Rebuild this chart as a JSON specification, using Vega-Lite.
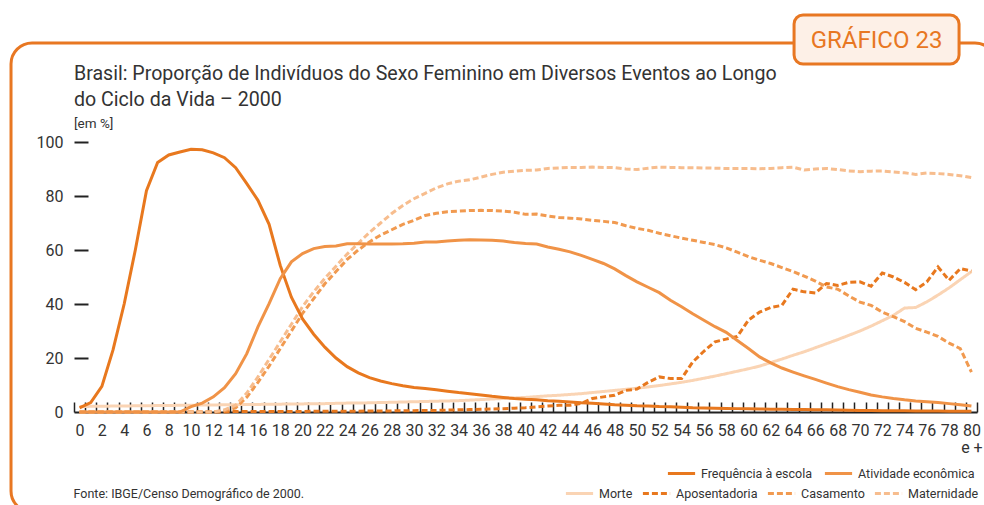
{
  "$schema": "https://vega.github.io/schema/vega-lite/v6.json",
  "width": 903,
  "height": 270,
  "autosize": {"type": "none"},
  "padding": {"left": 74, "top": 142, "right": 7, "bottom": 93},
  "background": "white",
  "title": {
    "text": ["Brasil: Proporção de Indivíduos do Sexo Feminino em Diversos Eventos ao Longo", "do Ciclo da Vida – 2000"],
    "subtitle": "[em %]",
    "anchor": "start",
    "frame": "group",
    "fontSize": 19.6,
    "fontWeight": "normal",
    "color": "#333333",
    "lineHeight": 26,
    "subtitleFontSize": 13.5,
    "subtitleColor": "#333333",
    "subtitlePadding": 6,
    "offset": -118
  },
  "datasets": {
    "dados": [
      {"serie":"Frequência à escola","idade":0,"valor":1.5},{"serie":"Frequência à escola","idade":1,"valor":3.5},{"serie":"Frequência à escola","idade":2,"valor":9.5},{"serie":"Frequência à escola","idade":3,"valor":23},{"serie":"Frequência à escola","idade":4,"valor":40},{"serie":"Frequência à escola","idade":5,"valor":60},{"serie":"Frequência à escola","idade":6,"valor":82},{"serie":"Frequência à escola","idade":7,"valor":92.4},{"serie":"Frequência à escola","idade":8,"valor":95.2},{"serie":"Frequência à escola","idade":9,"valor":96.3},
      {"serie":"Frequência à escola","idade":10,"valor":97.3},{"serie":"Frequência à escola","idade":11,"valor":97.1},{"serie":"Frequência à escola","idade":12,"valor":96},{"serie":"Frequência à escola","idade":13,"valor":94.2},{"serie":"Frequência à escola","idade":14,"valor":90.5},{"serie":"Frequência à escola","idade":15,"valor":84.6},{"serie":"Frequência à escola","idade":16,"valor":78.4},{"serie":"Frequência à escola","idade":17,"valor":69.5},{"serie":"Frequência à escola","idade":18,"valor":54.3},{"serie":"Frequência à escola","idade":19,"valor":42.5},
      {"serie":"Frequência à escola","idade":20,"valor":34.5},{"serie":"Frequência à escola","idade":21,"valor":28.8},{"serie":"Frequência à escola","idade":22,"valor":24},{"serie":"Frequência à escola","idade":23,"valor":20},{"serie":"Frequência à escola","idade":24,"valor":16.8},{"serie":"Frequência à escola","idade":25,"valor":14.5},{"serie":"Frequência à escola","idade":26,"valor":12.7},{"serie":"Frequência à escola","idade":27,"valor":11.5},{"serie":"Frequência à escola","idade":28,"valor":10.5},{"serie":"Frequência à escola","idade":29,"valor":9.7},
      {"serie":"Frequência à escola","idade":30,"valor":9.1},{"serie":"Frequência à escola","idade":31,"valor":8.7},{"serie":"Frequência à escola","idade":32,"valor":8.2},{"serie":"Frequência à escola","idade":33,"valor":7.7},{"serie":"Frequência à escola","idade":34,"valor":7.2},{"serie":"Frequência à escola","idade":35,"valor":6.8},{"serie":"Frequência à escola","idade":36,"valor":6.3},{"serie":"Frequência à escola","idade":37,"valor":5.8},{"serie":"Frequência à escola","idade":38,"valor":5.4},{"serie":"Frequência à escola","idade":39,"valor":5.0},
      {"serie":"Frequência à escola","idade":40,"valor":4.7},{"serie":"Frequência à escola","idade":41,"valor":4.5},{"serie":"Frequência à escola","idade":42,"valor":4.2},{"serie":"Frequência à escola","idade":43,"valor":4.0},{"serie":"Frequência à escola","idade":44,"valor":3.7},{"serie":"Frequência à escola","idade":45,"valor":3.4},{"serie":"Frequência à escola","idade":46,"valor":3.2},{"serie":"Frequência à escola","idade":47,"valor":3.0},{"serie":"Frequência à escola","idade":48,"valor":2.7},{"serie":"Frequência à escola","idade":49,"valor":2.5},
      {"serie":"Frequência à escola","idade":50,"valor":2.3},{"serie":"Frequência à escola","idade":51,"valor":2.2},{"serie":"Frequência à escola","idade":52,"valor":2.0},{"serie":"Frequência à escola","idade":53,"valor":1.9},{"serie":"Frequência à escola","idade":54,"valor":1.8},{"serie":"Frequência à escola","idade":55,"valor":1.6},{"serie":"Frequência à escola","idade":56,"valor":1.5},{"serie":"Frequência à escola","idade":57,"valor":1.4},{"serie":"Frequência à escola","idade":58,"valor":1.3},{"serie":"Frequência à escola","idade":59,"valor":1.25},
      {"serie":"Frequência à escola","idade":60,"valor":1.2},{"serie":"Frequência à escola","idade":61,"valor":1.1},{"serie":"Frequência à escola","idade":62,"valor":1.05},{"serie":"Frequência à escola","idade":63,"valor":1.0},{"serie":"Frequência à escola","idade":64,"valor":0.95},{"serie":"Frequência à escola","idade":65,"valor":0.9},{"serie":"Frequência à escola","idade":66,"valor":0.85},{"serie":"Frequência à escola","idade":67,"valor":0.8},{"serie":"Frequência à escola","idade":68,"valor":0.7},{"serie":"Frequência à escola","idade":69,"valor":0.65},
      {"serie":"Frequência à escola","idade":70,"valor":0.6},{"serie":"Frequência à escola","idade":71,"valor":0.55},{"serie":"Frequência à escola","idade":72,"valor":0.5},{"serie":"Frequência à escola","idade":73,"valor":0.5},{"serie":"Frequência à escola","idade":74,"valor":0.45},{"serie":"Frequência à escola","idade":75,"valor":0.4},{"serie":"Frequência à escola","idade":76,"valor":0.4},{"serie":"Frequência à escola","idade":77,"valor":0.35},{"serie":"Frequência à escola","idade":78,"valor":0.3},{"serie":"Frequência à escola","idade":79,"valor":0.3},{"serie":"Frequência à escola","idade":80,"valor":0.3},

      {"serie":"Atividade econômica","idade":0,"valor":0},{"serie":"Atividade econômica","idade":1,"valor":0},{"serie":"Atividade econômica","idade":2,"valor":0},{"serie":"Atividade econômica","idade":3,"valor":0},{"serie":"Atividade econômica","idade":4,"valor":0},{"serie":"Atividade econômica","idade":5,"valor":0},{"serie":"Atividade econômica","idade":6,"valor":0},{"serie":"Atividade econômica","idade":7,"valor":0},{"serie":"Atividade econômica","idade":8,"valor":0},{"serie":"Atividade econômica","idade":9,"valor":0},
      {"serie":"Atividade econômica","idade":10,"valor":2},{"serie":"Atividade econômica","idade":11,"valor":3.3},{"serie":"Atividade econômica","idade":12,"valor":5.6},{"serie":"Atividade econômica","idade":13,"valor":9},{"serie":"Atividade econômica","idade":14,"valor":14.2},{"serie":"Atividade econômica","idade":15,"valor":21.6},{"serie":"Atividade econômica","idade":16,"valor":31.5},{"serie":"Atividade econômica","idade":17,"valor":40.1},{"serie":"Atividade econômica","idade":18,"valor":49.4},{"serie":"Atividade econômica","idade":19,"valor":55.6},
      {"serie":"Atividade econômica","idade":20,"valor":58.7},{"serie":"Atividade econômica","idade":21,"valor":60.5},{"serie":"Atividade econômica","idade":22,"valor":61.3},{"serie":"Atividade econômica","idade":23,"valor":61.5},{"serie":"Atividade econômica","idade":24,"valor":62.3},{"serie":"Atividade econômica","idade":25,"valor":62.3},{"serie":"Atividade econômica","idade":26,"valor":62.2},{"serie":"Atividade econômica","idade":27,"valor":62.2},{"serie":"Atividade econômica","idade":28,"valor":62.2},{"serie":"Atividade econômica","idade":29,"valor":62.3},
      {"serie":"Atividade econômica","idade":30,"valor":62.5},{"serie":"Atividade econômica","idade":31,"valor":63},{"serie":"Atividade econômica","idade":32,"valor":63},{"serie":"Atividade econômica","idade":33,"valor":63.3},{"serie":"Atividade econômica","idade":34,"valor":63.6},{"serie":"Atividade econômica","idade":35,"valor":63.8},{"serie":"Atividade econômica","idade":36,"valor":63.7},{"serie":"Atividade econômica","idade":37,"valor":63.6},{"serie":"Atividade econômica","idade":38,"valor":63.3},{"serie":"Atividade econômica","idade":39,"valor":62.8},
      {"serie":"Atividade econômica","idade":40,"valor":62.4},{"serie":"Atividade econômica","idade":41,"valor":62.2},{"serie":"Atividade econômica","idade":42,"valor":61.1},{"serie":"Atividade econômica","idade":43,"valor":60.3},{"serie":"Atividade econômica","idade":44,"valor":59.3},{"serie":"Atividade econômica","idade":45,"valor":58},{"serie":"Atividade econômica","idade":46,"valor":56.5},{"serie":"Atividade econômica","idade":47,"valor":55},{"serie":"Atividade econômica","idade":48,"valor":53},{"serie":"Atividade econômica","idade":49,"valor":50.5},
      {"serie":"Atividade econômica","idade":50,"valor":48.2},{"serie":"Atividade econômica","idade":51,"valor":46.2},{"serie":"Atividade econômica","idade":52,"valor":44.2},{"serie":"Atividade econômica","idade":53,"valor":41.4},{"serie":"Atividade econômica","idade":54,"valor":39},{"serie":"Atividade econômica","idade":55,"valor":36.4},{"serie":"Atividade econômica","idade":56,"valor":34},{"serie":"Atividade econômica","idade":57,"valor":31.6},{"serie":"Atividade econômica","idade":58,"valor":29.5},{"serie":"Atividade econômica","idade":59,"valor":26.5},
      {"serie":"Atividade econômica","idade":60,"valor":23.5},{"serie":"Atividade econômica","idade":61,"valor":20.4},{"serie":"Atividade econômica","idade":62,"valor":18.2},{"serie":"Atividade econômica","idade":63,"valor":16.3},{"serie":"Atividade econômica","idade":64,"valor":14.8},{"serie":"Atividade econômica","idade":65,"valor":13.4},{"serie":"Atividade econômica","idade":66,"valor":12.1},{"serie":"Atividade econômica","idade":67,"valor":10.7},{"serie":"Atividade econômica","idade":68,"valor":9.4},{"serie":"Atividade econômica","idade":69,"valor":8.3},
      {"serie":"Atividade econômica","idade":70,"valor":7.3},{"serie":"Atividade econômica","idade":71,"valor":6.3},{"serie":"Atividade econômica","idade":72,"valor":5.6},{"serie":"Atividade econômica","idade":73,"valor":5},{"serie":"Atividade econômica","idade":74,"valor":4.5},{"serie":"Atividade econômica","idade":75,"valor":4.1},{"serie":"Atividade econômica","idade":76,"valor":3.8},{"serie":"Atividade econômica","idade":77,"valor":3.5},{"serie":"Atividade econômica","idade":78,"valor":3.1},{"serie":"Atividade econômica","idade":79,"valor":2.7},{"serie":"Atividade econômica","idade":80,"valor":2.2},

      {"serie":"Morte","idade":0,"valor":2.0},{"serie":"Morte","idade":1,"valor":2.1},{"serie":"Morte","idade":2,"valor":2.1},{"serie":"Morte","idade":3,"valor":2.2},{"serie":"Morte","idade":4,"valor":2.2},{"serie":"Morte","idade":5,"valor":2.3},{"serie":"Morte","idade":6,"valor":2.3},{"serie":"Morte","idade":7,"valor":2.4},{"serie":"Morte","idade":8,"valor":2.4},{"serie":"Morte","idade":9,"valor":2.5},
      {"serie":"Morte","idade":10,"valor":2.5},{"serie":"Morte","idade":11,"valor":2.6},{"serie":"Morte","idade":12,"valor":2.6},{"serie":"Morte","idade":13,"valor":2.7},{"serie":"Morte","idade":14,"valor":2.7},{"serie":"Morte","idade":15,"valor":2.8},{"serie":"Morte","idade":16,"valor":2.8},{"serie":"Morte","idade":17,"valor":2.9},{"serie":"Morte","idade":18,"valor":2.9},{"serie":"Morte","idade":19,"valor":3.0},
      {"serie":"Morte","idade":20,"valor":3.0},{"serie":"Morte","idade":21,"valor":3.1},{"serie":"Morte","idade":22,"valor":3.1},{"serie":"Morte","idade":23,"valor":3.2},{"serie":"Morte","idade":24,"valor":3.3},{"serie":"Morte","idade":25,"valor":3.3},{"serie":"Morte","idade":26,"valor":3.4},{"serie":"Morte","idade":27,"valor":3.5},{"serie":"Morte","idade":28,"valor":3.6},{"serie":"Morte","idade":29,"valor":3.7},
      {"serie":"Morte","idade":30,"valor":3.8},{"serie":"Morte","idade":31,"valor":3.9},{"serie":"Morte","idade":32,"valor":4.0},{"serie":"Morte","idade":33,"valor":4.1},{"serie":"Morte","idade":34,"valor":4.2},{"serie":"Morte","idade":35,"valor":4.4},{"serie":"Morte","idade":36,"valor":4.6},{"serie":"Morte","idade":37,"valor":4.8},{"serie":"Morte","idade":38,"valor":5.0},{"serie":"Morte","idade":39,"valor":5.2},
      {"serie":"Morte","idade":40,"valor":5.4},{"serie":"Morte","idade":41,"valor":5.7},{"serie":"Morte","idade":42,"valor":6.0},{"serie":"Morte","idade":43,"valor":6.2},{"serie":"Morte","idade":44,"valor":6.5},{"serie":"Morte","idade":45,"valor":6.8},{"serie":"Morte","idade":46,"valor":7.2},{"serie":"Morte","idade":47,"valor":7.6},{"serie":"Morte","idade":48,"valor":8.0},{"serie":"Morte","idade":49,"valor":8.4},
      {"serie":"Morte","idade":50,"valor":8.8},{"serie":"Morte","idade":51,"valor":9.3},{"serie":"Morte","idade":52,"valor":9.8},{"serie":"Morte","idade":53,"valor":10.4},{"serie":"Morte","idade":54,"valor":11.0},{"serie":"Morte","idade":55,"valor":11.7},{"serie":"Morte","idade":56,"valor":12.5},{"serie":"Morte","idade":57,"valor":13.3},{"serie":"Morte","idade":58,"valor":14.2},{"serie":"Morte","idade":59,"valor":15.1},
      {"serie":"Morte","idade":60,"valor":16.0},{"serie":"Morte","idade":61,"valor":17.0},{"serie":"Morte","idade":62,"valor":18.3},{"serie":"Morte","idade":63,"valor":19.6},{"serie":"Morte","idade":64,"valor":21.0},{"serie":"Morte","idade":65,"valor":22.3},{"serie":"Morte","idade":66,"valor":23.8},{"serie":"Morte","idade":67,"valor":25.3},{"serie":"Morte","idade":68,"valor":26.8},{"serie":"Morte","idade":69,"valor":28.4},
      {"serie":"Morte","idade":70,"valor":30.0},{"serie":"Morte","idade":71,"valor":31.8},{"serie":"Morte","idade":72,"valor":33.8},{"serie":"Morte","idade":73,"valor":35.8},{"serie":"Morte","idade":74,"valor":38.5},{"serie":"Morte","idade":75,"valor":38.7},{"serie":"Morte","idade":76,"valor":40.8},{"serie":"Morte","idade":77,"valor":43.3},{"serie":"Morte","idade":78,"valor":46.0},{"serie":"Morte","idade":79,"valor":49.0},{"serie":"Morte","idade":80,"valor":52.0},

      {"serie":"Aposentadoria","idade":0,"valor":0},{"serie":"Aposentadoria","idade":1,"valor":0},{"serie":"Aposentadoria","idade":2,"valor":0},{"serie":"Aposentadoria","idade":3,"valor":0},{"serie":"Aposentadoria","idade":4,"valor":0},{"serie":"Aposentadoria","idade":5,"valor":0},{"serie":"Aposentadoria","idade":6,"valor":0},{"serie":"Aposentadoria","idade":7,"valor":0},{"serie":"Aposentadoria","idade":8,"valor":0},{"serie":"Aposentadoria","idade":9,"valor":0},
      {"serie":"Aposentadoria","idade":10,"valor":0},{"serie":"Aposentadoria","idade":11,"valor":0},{"serie":"Aposentadoria","idade":12,"valor":0},{"serie":"Aposentadoria","idade":13,"valor":0},{"serie":"Aposentadoria","idade":14,"valor":0.2},{"serie":"Aposentadoria","idade":15,"valor":0.2},{"serie":"Aposentadoria","idade":16,"valor":0.2},{"serie":"Aposentadoria","idade":17,"valor":0.2},{"serie":"Aposentadoria","idade":18,"valor":0.2},{"serie":"Aposentadoria","idade":19,"valor":0.2},
      {"serie":"Aposentadoria","idade":20,"valor":0.2},{"serie":"Aposentadoria","idade":21,"valor":0.3},{"serie":"Aposentadoria","idade":22,"valor":0.3},{"serie":"Aposentadoria","idade":23,"valor":0.3},{"serie":"Aposentadoria","idade":24,"valor":0.3},{"serie":"Aposentadoria","idade":25,"valor":0.3},{"serie":"Aposentadoria","idade":26,"valor":0.4},{"serie":"Aposentadoria","idade":27,"valor":0.4},{"serie":"Aposentadoria","idade":28,"valor":0.4},{"serie":"Aposentadoria","idade":29,"valor":0.5},
      {"serie":"Aposentadoria","idade":30,"valor":0.5},{"serie":"Aposentadoria","idade":31,"valor":0.6},{"serie":"Aposentadoria","idade":32,"valor":0.6},{"serie":"Aposentadoria","idade":33,"valor":0.7},{"serie":"Aposentadoria","idade":34,"valor":0.8},{"serie":"Aposentadoria","idade":35,"valor":0.9},{"serie":"Aposentadoria","idade":36,"valor":1.0},{"serie":"Aposentadoria","idade":37,"valor":1.1},{"serie":"Aposentadoria","idade":38,"valor":1.2},{"serie":"Aposentadoria","idade":39,"valor":1.4},
      {"serie":"Aposentadoria","idade":40,"valor":1.6},{"serie":"Aposentadoria","idade":41,"valor":1.9},{"serie":"Aposentadoria","idade":42,"valor":2.2},{"serie":"Aposentadoria","idade":43,"valor":2.5},{"serie":"Aposentadoria","idade":44,"valor":2.5},{"serie":"Aposentadoria","idade":45,"valor":3.2},{"serie":"Aposentadoria","idade":46,"valor":5},{"serie":"Aposentadoria","idade":47,"valor":5.6},{"serie":"Aposentadoria","idade":48,"valor":6.2},{"serie":"Aposentadoria","idade":49,"valor":8},
      {"serie":"Aposentadoria","idade":50,"valor":8.5},{"serie":"Aposentadoria","idade":51,"valor":11},{"serie":"Aposentadoria","idade":52,"valor":13},{"serie":"Aposentadoria","idade":53,"valor":12.4},{"serie":"Aposentadoria","idade":54,"valor":12.4},{"serie":"Aposentadoria","idade":55,"valor":18.5},{"serie":"Aposentadoria","idade":56,"valor":22.5},{"serie":"Aposentadoria","idade":57,"valor":26},{"serie":"Aposentadoria","idade":58,"valor":27},{"serie":"Aposentadoria","idade":59,"valor":28},
      {"serie":"Aposentadoria","idade":60,"valor":34},{"serie":"Aposentadoria","idade":61,"valor":37},{"serie":"Aposentadoria","idade":62,"valor":38.7},{"serie":"Aposentadoria","idade":63,"valor":39.5},{"serie":"Aposentadoria","idade":64,"valor":45.5},{"serie":"Aposentadoria","idade":65,"valor":44.5},{"serie":"Aposentadoria","idade":66,"valor":44.1},{"serie":"Aposentadoria","idade":67,"valor":47.6},{"serie":"Aposentadoria","idade":68,"valor":46.9},{"serie":"Aposentadoria","idade":69,"valor":48},
      {"serie":"Aposentadoria","idade":70,"valor":48.2},{"serie":"Aposentadoria","idade":71,"valor":46.6},{"serie":"Aposentadoria","idade":72,"valor":51.5},{"serie":"Aposentadoria","idade":73,"valor":50},{"serie":"Aposentadoria","idade":74,"valor":48},{"serie":"Aposentadoria","idade":75,"valor":45.3},{"serie":"Aposentadoria","idade":76,"valor":48.2},{"serie":"Aposentadoria","idade":77,"valor":53.7},{"serie":"Aposentadoria","idade":78,"valor":48.8},{"serie":"Aposentadoria","idade":79,"valor":53.1},{"serie":"Aposentadoria","idade":80,"valor":52.2},

      {"serie":"Casamento","idade":0,"valor":0},{"serie":"Casamento","idade":1,"valor":0},{"serie":"Casamento","idade":2,"valor":0},{"serie":"Casamento","idade":3,"valor":0},{"serie":"Casamento","idade":4,"valor":0},{"serie":"Casamento","idade":5,"valor":0},{"serie":"Casamento","idade":6,"valor":0},{"serie":"Casamento","idade":7,"valor":0},{"serie":"Casamento","idade":8,"valor":0},{"serie":"Casamento","idade":9,"valor":0},
      {"serie":"Casamento","idade":10,"valor":0},{"serie":"Casamento","idade":11,"valor":0},{"serie":"Casamento","idade":12,"valor":0},{"serie":"Casamento","idade":13,"valor":0.5},{"serie":"Casamento","idade":14,"valor":1.5},{"serie":"Casamento","idade":15,"valor":5.5},{"serie":"Casamento","idade":16,"valor":11},{"serie":"Casamento","idade":17,"valor":17},{"serie":"Casamento","idade":18,"valor":23.5},{"serie":"Casamento","idade":19,"valor":30},
      {"serie":"Casamento","idade":20,"valor":36.5},{"serie":"Casamento","idade":21,"valor":42},{"serie":"Casamento","idade":22,"valor":47.5},{"serie":"Casamento","idade":23,"valor":52},{"serie":"Casamento","idade":24,"valor":56.5},{"serie":"Casamento","idade":25,"valor":60},{"serie":"Casamento","idade":26,"valor":63},{"serie":"Casamento","idade":27,"valor":65.5},{"serie":"Casamento","idade":28,"valor":67.5},{"serie":"Casamento","idade":29,"valor":69.5},
      {"serie":"Casamento","idade":30,"valor":71},{"serie":"Casamento","idade":31,"valor":72.8},{"serie":"Casamento","idade":32,"valor":73.6},{"serie":"Casamento","idade":33,"valor":74.2},{"serie":"Casamento","idade":34,"valor":74.4},{"serie":"Casamento","idade":35,"valor":74.6},{"serie":"Casamento","idade":36,"valor":74.7},{"serie":"Casamento","idade":37,"valor":74.6},{"serie":"Casamento","idade":38,"valor":74.4},{"serie":"Casamento","idade":39,"valor":74},
      {"serie":"Casamento","idade":40,"valor":73.2},{"serie":"Casamento","idade":41,"valor":73.3},{"serie":"Casamento","idade":42,"valor":72.6},{"serie":"Casamento","idade":43,"valor":72},{"serie":"Casamento","idade":44,"valor":71.8},{"serie":"Casamento","idade":45,"valor":71.5},{"serie":"Casamento","idade":46,"valor":71},{"serie":"Casamento","idade":47,"valor":70.6},{"serie":"Casamento","idade":48,"valor":70.2},{"serie":"Casamento","idade":49,"valor":69},
      {"serie":"Casamento","idade":50,"valor":68},{"serie":"Casamento","idade":51,"valor":67.3},{"serie":"Casamento","idade":52,"valor":66.2},{"serie":"Casamento","idade":53,"valor":65.3},{"serie":"Casamento","idade":54,"valor":64.4},{"serie":"Casamento","idade":55,"valor":63.6},{"serie":"Casamento","idade":56,"valor":62.8},{"serie":"Casamento","idade":57,"valor":62},{"serie":"Casamento","idade":58,"valor":60.8},{"serie":"Casamento","idade":59,"valor":59.2},
      {"serie":"Casamento","idade":60,"valor":57.5},{"serie":"Casamento","idade":61,"valor":56.2},{"serie":"Casamento","idade":62,"valor":55},{"serie":"Casamento","idade":63,"valor":53.5},{"serie":"Casamento","idade":64,"valor":52},{"serie":"Casamento","idade":65,"valor":50.3},{"serie":"Casamento","idade":66,"valor":48.5},{"serie":"Casamento","idade":67,"valor":46.3},{"serie":"Casamento","idade":68,"valor":45.5},{"serie":"Casamento","idade":69,"valor":43},
      {"serie":"Casamento","idade":70,"valor":40.7},{"serie":"Casamento","idade":71,"valor":39.5},{"serie":"Casamento","idade":72,"valor":37},{"serie":"Casamento","idade":73,"valor":35.3},{"serie":"Casamento","idade":74,"valor":33.5},{"serie":"Casamento","idade":75,"valor":31},{"serie":"Casamento","idade":76,"valor":29.6},{"serie":"Casamento","idade":77,"valor":28},{"serie":"Casamento","idade":78,"valor":25.5},{"serie":"Casamento","idade":79,"valor":23.5},{"serie":"Casamento","idade":80,"valor":14.8},

      {"serie":"Maternidade","idade":0,"valor":0},{"serie":"Maternidade","idade":1,"valor":0},{"serie":"Maternidade","idade":2,"valor":0},{"serie":"Maternidade","idade":3,"valor":0},{"serie":"Maternidade","idade":4,"valor":0},{"serie":"Maternidade","idade":5,"valor":0},{"serie":"Maternidade","idade":6,"valor":0},{"serie":"Maternidade","idade":7,"valor":0},{"serie":"Maternidade","idade":8,"valor":0},{"serie":"Maternidade","idade":9,"valor":0},
      {"serie":"Maternidade","idade":10,"valor":0},{"serie":"Maternidade","idade":11,"valor":0},{"serie":"Maternidade","idade":12,"valor":0},{"serie":"Maternidade","idade":13,"valor":0.8},{"serie":"Maternidade","idade":14,"valor":2.5},{"serie":"Maternidade","idade":15,"valor":7},{"serie":"Maternidade","idade":16,"valor":13},{"serie":"Maternidade","idade":17,"valor":19.5},{"serie":"Maternidade","idade":18,"valor":26},{"serie":"Maternidade","idade":19,"valor":32.5},
      {"serie":"Maternidade","idade":20,"valor":39},{"serie":"Maternidade","idade":21,"valor":44.5},{"serie":"Maternidade","idade":22,"valor":49.5},{"serie":"Maternidade","idade":23,"valor":54},{"serie":"Maternidade","idade":24,"valor":58.5},{"serie":"Maternidade","idade":25,"valor":62.5},{"serie":"Maternidade","idade":26,"valor":66.5},{"serie":"Maternidade","idade":27,"valor":70},{"serie":"Maternidade","idade":28,"valor":73.5},{"serie":"Maternidade","idade":29,"valor":76.5},
      {"serie":"Maternidade","idade":30,"valor":79},{"serie":"Maternidade","idade":31,"valor":81},{"serie":"Maternidade","idade":32,"valor":83},{"serie":"Maternidade","idade":33,"valor":84.5},{"serie":"Maternidade","idade":34,"valor":85.5},{"serie":"Maternidade","idade":35,"valor":86},{"serie":"Maternidade","idade":36,"valor":87},{"serie":"Maternidade","idade":37,"valor":88},{"serie":"Maternidade","idade":38,"valor":88.8},{"serie":"Maternidade","idade":39,"valor":89.2},
      {"serie":"Maternidade","idade":40,"valor":89.5},{"serie":"Maternidade","idade":41,"valor":89.6},{"serie":"Maternidade","idade":42,"valor":90.2},{"serie":"Maternidade","idade":43,"valor":90.4},{"serie":"Maternidade","idade":44,"valor":90.6},{"serie":"Maternidade","idade":45,"valor":90.6},{"serie":"Maternidade","idade":46,"valor":90.7},{"serie":"Maternidade","idade":47,"valor":90.6},{"serie":"Maternidade","idade":48,"valor":90.5},{"serie":"Maternidade","idade":49,"valor":90},
      {"serie":"Maternidade","idade":50,"valor":89.8},{"serie":"Maternidade","idade":51,"valor":90.3},{"serie":"Maternidade","idade":52,"valor":90.7},{"serie":"Maternidade","idade":53,"valor":90.6},{"serie":"Maternidade","idade":54,"valor":90.5},{"serie":"Maternidade","idade":55,"valor":90.5},{"serie":"Maternidade","idade":56,"valor":90.4},{"serie":"Maternidade","idade":57,"valor":90.3},{"serie":"Maternidade","idade":58,"valor":90.2},{"serie":"Maternidade","idade":59,"valor":90.2},
      {"serie":"Maternidade","idade":60,"valor":90.2},{"serie":"Maternidade","idade":61,"valor":90.1},{"serie":"Maternidade","idade":62,"valor":90.2},{"serie":"Maternidade","idade":63,"valor":90.5},{"serie":"Maternidade","idade":64,"valor":90.7},{"serie":"Maternidade","idade":65,"valor":89.6},{"serie":"Maternidade","idade":66,"valor":90},{"serie":"Maternidade","idade":67,"valor":90.2},{"serie":"Maternidade","idade":68,"valor":89.8},{"serie":"Maternidade","idade":69,"valor":89.3},
      {"serie":"Maternidade","idade":70,"valor":89},{"serie":"Maternidade","idade":71,"valor":89.2},{"serie":"Maternidade","idade":72,"valor":89.3},{"serie":"Maternidade","idade":73,"valor":88.9},{"serie":"Maternidade","idade":74,"valor":88.6},{"serie":"Maternidade","idade":75,"valor":88},{"serie":"Maternidade","idade":76,"valor":88.5},{"serie":"Maternidade","idade":77,"valor":88.3},{"serie":"Maternidade","idade":78,"valor":88},{"serie":"Maternidade","idade":79,"valor":87.5},{"serie":"Maternidade","idade":80,"valor":86.8}
    ]
  },
  "layer": [
    {
      "data": {"values": [{}]},
      "mark": {"type": "rect", "fill": null, "stroke": "#E87722", "strokeWidth": 3, "cornerRadius": 21},
      "encoding": {
        "x": {"datum": -6.15, "type": "quantitative"},
        "x2": {"datum": 82.2},
        "y": {"datum": 136.67, "type": "quantitative"},
        "y2": {"datum": -37.0}
      }
    },
    {
      "data": {"values": [{}]},
      "mark": {"type": "rect", "fill": "#FDF0E7", "stroke": "#E87722", "strokeWidth": 3, "cornerRadius": 9},
      "encoding": {
        "x": {"datum": 64.09, "type": "quantitative"},
        "x2": {"datum": 78.89},
        "y": {"datum": 147.04, "type": "quantitative"},
        "y2": {"datum": 128.89}
      }
    },
    {
      "data": {"values": [{}]},
      "mark": {"type": "text", "fontSize": 24, "color": "#E87722", "align": "center", "baseline": "alphabetic"},
      "encoding": {
        "x": {"datum": 71.49, "type": "quantitative"},
        "y": {"datum": 134.81, "type": "quantitative"},
        "text": {"value": "GRÁFICO 23"}
      }
    },
    {
      "data": {"name": "dados"},
      "transform": [{"filter": {"field": "serie", "oneOf": ["Morte", "Aposentadoria", "Casamento", "Maternidade"]}}],
      "mark": {"type": "line", "strokeWidth": 3, "strokeCap": "butt"},
      "encoding": {
        "x": {
          "field": "idade", "type": "quantitative",
          "scale": {"domain": [-0.5, 80.5], "nice": false, "zero": false},
          "axis": {
            "values": [-0.5,0,0.5,1,1.5,2,2.5,3,3.5,4,4.5,5,5.5,6,6.5,7,7.5,8,8.5,9,9.5,10,10.5,11,11.5,12,12.5,13,13.5,14,14.5,15,15.5,16,16.5,17,17.5,18,18.5,19,19.5,20,20.5,21,21.5,22,22.5,23,23.5,24,24.5,25,25.5,26,26.5,27,27.5,28,28.5,29,29.5,30,30.5,31,31.5,32,32.5,33,33.5,34,34.5,35,35.5,36,36.5,37,37.5,38,38.5,39,39.5,40,40.5,41,41.5,42,42.5,43,43.5,44,44.5,45,45.5,46,46.5,47,47.5,48,48.5,49,49.5,50,50.5,51,51.5,52,52.5,53,53.5,54,54.5,55,55.5,56,56.5,57,57.5,58,58.5,59,59.5,60,60.5,61,61.5,62,62.5,63,63.5,64,64.5,65,65.5,66,66.5,67,67.5,68,68.5,69,69.5,70,70.5,71,71.5,72,72.5,73,73.5,74,74.5,75,75.5,76,76.5,77,77.5,78,78.5,79,79.5,80,80.5],
            "tickCount": 1000,
            "labelExpr": "datum.value % 2 === 0 ? (datum.value === 80 ? ['80', 'e +'] : '' + datum.value) : ''",
            "tickOpacity": {"condition": {"test": "datum.value % 1 === 0", "value": 0}, "value": 1},
            "tickSize": -10,
            "tickWidth": 1.5,
            "tickColor": "#222222",
            "domainColor": "#222222",
            "domainWidth": 2,
            "grid": false,
            "labelOverlap": false,
            "labelFlush": false,
            "labelFontSize": 16,
            "labelColor": "#333333",
            "labelPadding": 20,
            "labelLineHeight": 17,
            "title": "Fonte: IBGE/Censo Demográfico de 2000.",
            "titleFontSize": 12.5,
            "titleFontWeight": "normal",
            "titleColor": "#333333",
            "titleAnchor": "start",
            "titleAlign": "left",
            "titleBaseline": "alphabetic",
            "titleX": -1,
            "titleY": 85
          }
        },
        "y": {
          "field": "valor", "type": "quantitative",
          "scale": {"domain": [0, 100], "nice": false},
          "axis": {
            "values": [0, 20, 40, 60, 80, 100],
            "domain": false,
            "grid": false,
            "offset": -14,
            "tickSize": 14,
            "tickWidth": 2,
            "tickColor": "#222222",
            "tickOpacity": {"condition": {"test": "datum.value === 0", "value": 0}, "value": 1},
            "labelFontSize": 16,
            "labelColor": "#333333",
            "labelPadding": 11,
            "title": null
          }
        },
        "color": {
          "field": "serie", "type": "nominal",
          "scale": {"domain": ["Morte", "Aposentadoria", "Casamento", "Maternidade"], "range": ["#FAD4B4", "#E8781E", "#F19A50", "#F7BD8E"]},
          "legend": {"orient": "none", "legendX": 490, "legendY": 336, "direction": "horizontal", "title": null, "symbolType": "stroke", "symbolSize": 740, "symbolStrokeWidth": 3, "labelFontSize": 12.5, "labelColor": "#333333", "labelOffset": 4, "columnPadding": 3}
        },
        "strokeDash": {
          "field": "serie", "type": "nominal",
          "scale": {"domain": ["Morte", "Aposentadoria", "Casamento", "Maternidade"], "range": [[1, 0], [6, 3], [6, 3], [6, 3]]},
          "legend": {"orient": "none", "legendX": 490, "legendY": 336, "direction": "horizontal", "title": null, "symbolType": "stroke", "symbolSize": 740, "symbolStrokeWidth": 3, "labelFontSize": 12.5, "labelColor": "#333333", "labelOffset": 4, "columnPadding": 3}
        }
      }
    },
    {
      "data": {"name": "dados"},
      "transform": [{"filter": {"field": "serie", "oneOf": ["Frequência à escola", "Atividade econômica"]}}],
      "mark": {"type": "line", "strokeWidth": 3, "strokeCap": "butt"},
      "encoding": {
        "x": {"field": "idade", "type": "quantitative"},
        "y": {"field": "valor", "type": "quantitative"},
        "color": {
          "field": "serie", "type": "nominal",
          "scale": {"domain": ["Frequência à escola", "Atividade econômica"], "range": ["#E8781E", "#F09347"]},
          "legend": {"orient": "none", "legendX": 592, "legendY": 316, "direction": "horizontal", "title": null, "symbolType": "stroke", "symbolSize": 740, "symbolStrokeWidth": 3, "labelFontSize": 12.5, "labelColor": "#333333", "labelOffset": 4, "columnPadding": 6}
        }
      }
    }
  ],
  "resolve": {"scale": {"color": "independent", "strokeDash": "independent"}},
  "config": {
    "font": "Roboto",
    "view": {"stroke": null}
  }
}
